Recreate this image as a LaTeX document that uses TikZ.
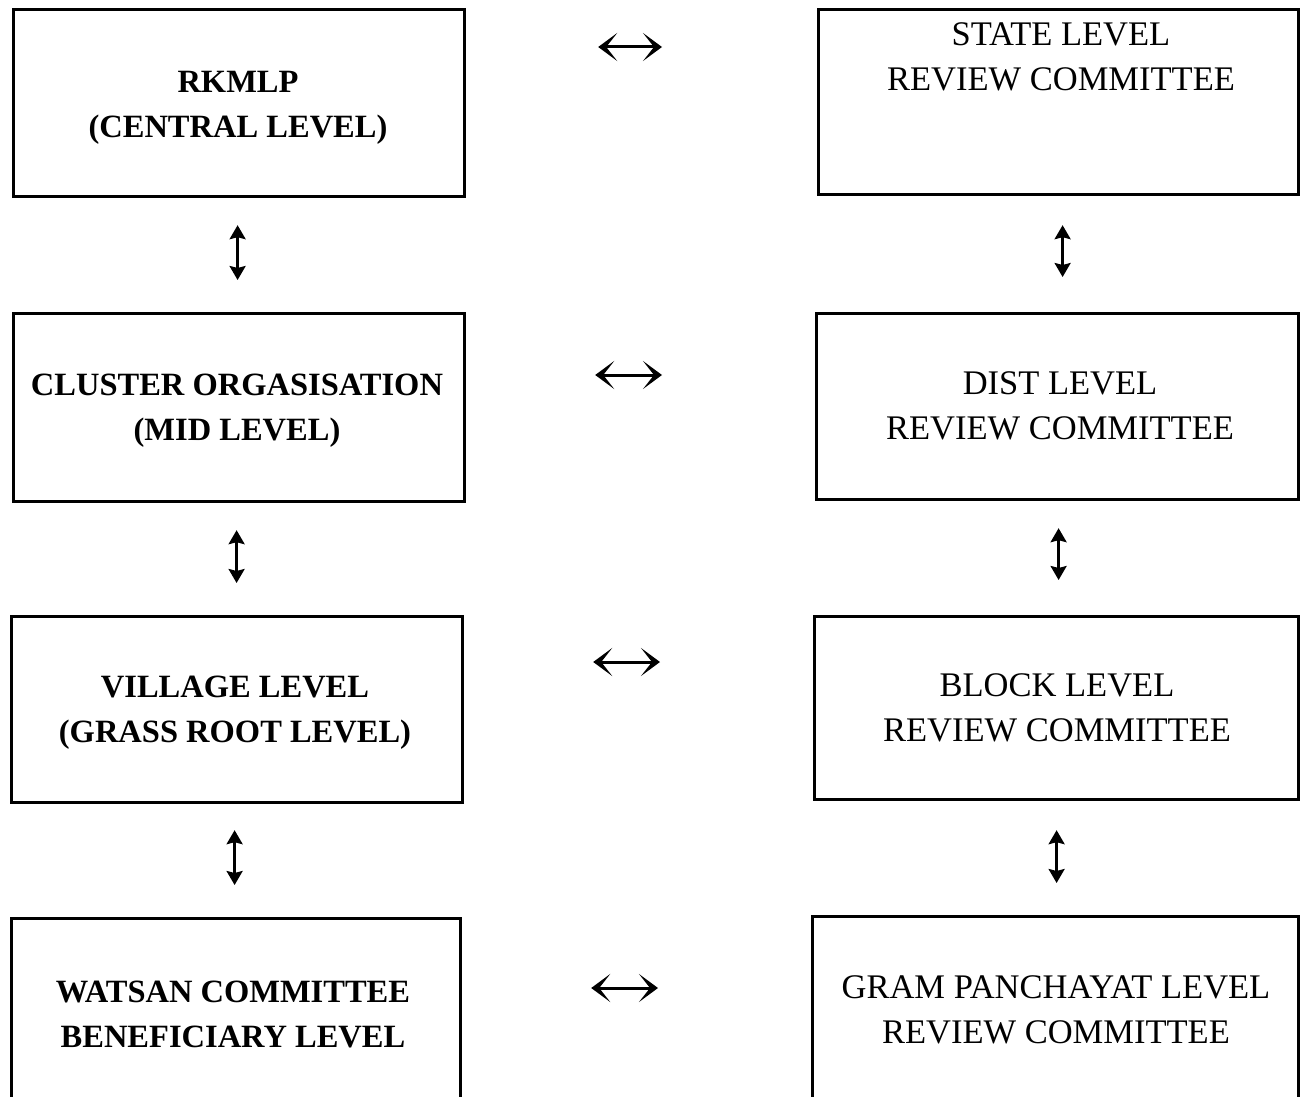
\documentclass[tikz,border=0pt]{standalone}
\usepackage{fontspec}
\setmainfont{Liberation Serif}
\usetikzlibrary{arrows.meta,positioning}
\begin{document}
\begin{tikzpicture}[x=1pt,y=-1pt,
  box/.style={draw=black,line width=3.2pt,rectangle,anchor=north west,inner sep=0pt},
  ltext/.style={font=\fontsize{32.5}{45}\selectfont\bfseries,align=center,inner sep=0pt},
  rtext/.style={font=\fontsize{34.5}{45}\selectfont,align=center,inner sep=0pt},
  htip/.tip={Stealth[length=19pt,width=28pt,inset=11pt]},
  harrow/.style={line width=3pt,htip-htip},
  varrow/.style={line width=2.5pt,{Stealth[length=14pt,width=16pt,inset=2pt]}-{Stealth[length=14pt,width=16pt,inset=2pt]}}
]
\useasboundingbox (0,0) rectangle (1310,1097);
\begin{scope}
\clip (0,0) rectangle (1310,1097);
% left column
\node[box,minimum width=451pt,minimum height=187pt] (L1) at (12,8) {};
\node[box,minimum width=451pt,minimum height=188pt] (L2) at (12,312) {};
\node[box,minimum width=451pt,minimum height=186pt] (L3) at (10,615) {};
\node[box,minimum width=449pt,minimum height=200pt] (L4) at (10,917) {};
% right column
\node[box,minimum width=480pt,minimum height=185pt] (R1) at (817,8) {};
\node[box,minimum width=482pt,minimum height=186pt] (R2) at (815,312) {};
\node[box,minimum width=484pt,minimum height=183pt] (R3) at (813,615) {};
\node[box,minimum width=486pt,minimum height=200pt] (R4) at (811,915) {};
\end{scope}
% texts
\node[ltext] (tL1) at (238,108) {RKMLP\\(CENTRAL LEVEL)};
\node[ltext] (tL2) at (237,411) {CLUSTER ORGASISATION\\(MID LEVEL)};
\node[ltext] (tL3) at (235,713) {VILLAGE LEVEL\\(GRASS ROOT LEVEL)};
\node[ltext] (tL4) at (233,1014) {WATSAN COMMITTEE\\BENEFICIARY LEVEL};
\node[rtext] (tR1) at (1061,57) {STATE LEVEL\\REVIEW COMMITTEE};
\node[rtext] (tR2) at (1060,406) {DIST LEVEL\\REVIEW COMMITTEE};
\node[rtext] (tR3) at (1057,708) {BLOCK LEVEL\\REVIEW COMMITTEE};
\node[rtext] (tR4) at (1056,1010) {GRAM PANCHAYAT LEVEL\\REVIEW COMMITTEE};
% horizontal arrows
\draw[harrow,shorten <=132pt,shorten >=155pt] ([yshift=-39pt]L1.north east) -- ([yshift=-39pt]L1.north east -| R1.west);
\draw[harrow,shorten <=129pt,shorten >=153pt] ([yshift=-63pt]L2.north east) -- ([yshift=-63pt]L2.north east -| R2.west);
\draw[harrow,shorten <=129pt,shorten >=153pt] ([yshift=-47pt]L3.north east) -- ([yshift=-47pt]L3.north east -| R3.west);
\draw[harrow,shorten <=129pt,shorten >=153pt] ([yshift=-71pt]L4.north east) -- ([yshift=-71pt]L4.north east -| R4.west);
% vertical arrows
\draw[varrow,shorten <=27pt,shorten >=32pt] ([xshift=-1.5pt]L1.south) -- ([xshift=-1.5pt]L1.south |- L2.north);
\draw[varrow,shorten <=27pt,shorten >=32pt] ([xshift=-2.5pt]L2.south) -- ([xshift=-2.5pt]L2.south |- L3.north);
\draw[varrow,shorten <=26pt,shorten >=32pt] ([xshift=-2.5pt]L3.south) -- ([xshift=-2.5pt]L3.south |- L4.north);
\draw[varrow,shorten <=29pt,shorten >=35pt] ([xshift=4pt]R1.south) -- ([xshift=4pt]R1.south |- R2.north);
\draw[varrow,shorten <=27pt,shorten >=35pt] ([xshift=1pt]R2.south) -- ([xshift=1pt]R2.south |- R3.north);
\draw[varrow,shorten <=29pt,shorten >=32pt] ([xshift=0pt]R3.south) -- ([xshift=0pt]R3.south |- R4.north);
\end{tikzpicture}
\end{document}
